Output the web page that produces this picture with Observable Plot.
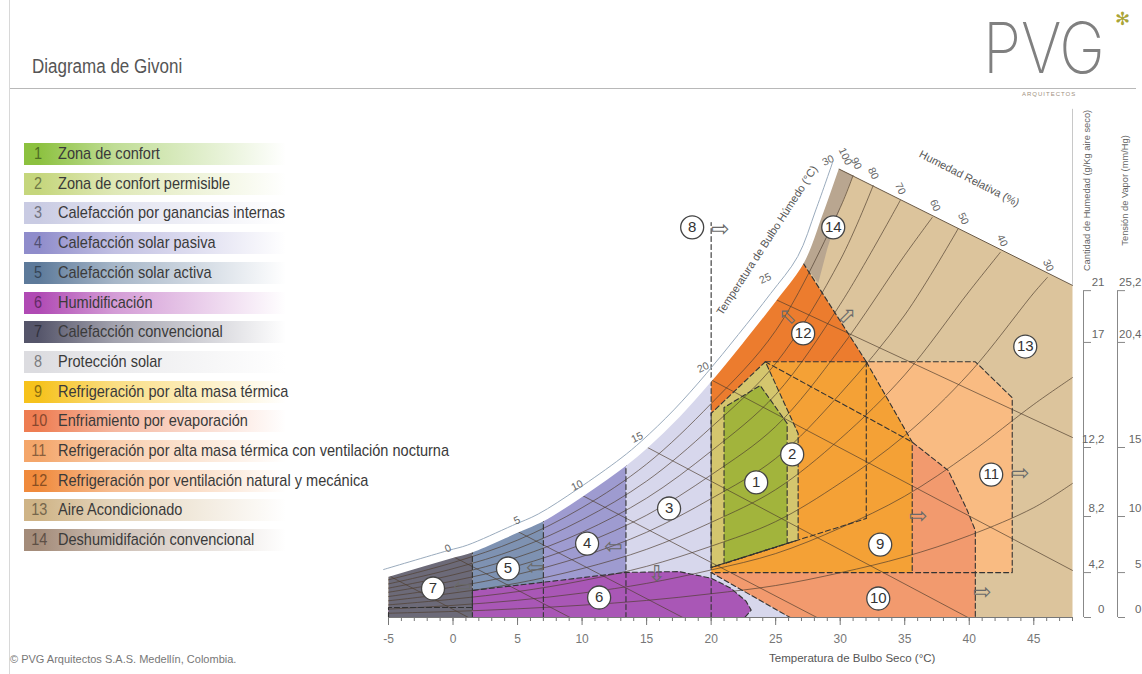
<!DOCTYPE html>
<html><head><meta charset="utf-8">
<script src="https://cdn.jsdelivr.net/npm/d3@7"></script>
<script src="https://cdn.jsdelivr.net/npm/@observablehq/plot@0.6"></script>
<style>
html,body{margin:0;padding:0;background:#fff;}
body{width:1142px;height:674px;position:relative;overflow:hidden;font-family:"Liberation Sans",Arial,sans-serif;}
#chart{position:absolute;left:0;top:0;}
.abs{position:absolute;}
#title{left:32px;top:55px;font-size:20px;color:#555;white-space:nowrap;transform:scaleX(0.85);transform-origin:left center;}
#hline{left:10px;top:88px;width:1126px;height:1px;background:#b8b8b8;}
#vline{left:9px;top:0;width:1px;height:674px;background:#d8d8d8;}
#caption{left:10px;top:653px;font-size:11px;color:#777;white-space:nowrap;}
.lrow{position:absolute;left:24px;height:22px;width:330px;}
.lnum{position:absolute;left:6px;width:16px;text-align:center;top:0;line-height:22px;font-size:17px;transform:scaleX(0.85);}
.ltxt{position:absolute;left:34px;top:0;line-height:22px;font-size:17px;color:#3a3a3a;white-space:nowrap;transform:scaleX(0.855);transform-origin:left center;}
</style></head><body>
<div id="vline" class="abs"></div>
<div id="chart"></div>
<div id="title" class="abs">Diagrama de Givoni</div>
<div id="hline" class="abs"></div>
<svg class="abs" style="left:960px;top:0px;overflow:visible" width="182" height="110">
  <text transform="translate(23,73) scale(0.88,1)" font-size="70" font-weight="200" font-family="Inter, 'Open Sans', sans-serif" fill="#808080">PVG</text>
  <text x="155" y="25" font-size="18" font-family="DejaVu Sans" fill="#aaa436">✻</text>
  <text x="62" y="96" font-size="6" font-family="'Liberation Sans', sans-serif" fill="#a09080" letter-spacing="1">ARQUITECTOS</text>
</svg>
<div id="legend"></div>
<div id="caption" class="abs">© PVG Arquitectos S.A.S. Medellín, Colombia.</div>
<script>
// ---------- Legend ----------
const legendNumbers = [1,2,3,4,5,6,7,8,9,10,11,12,13,14];
const legendLabels = ["Zona de confort","Zona de confort permisible","Calefacción por ganancias internas","Calefacción solar pasiva","Calefacción solar activa","Humidificación","Calefacción convencional","Protección solar","Refrigeración por alta masa térmica","Enfriamiento por evaporación","Refrigeración por alta masa térmica con ventilación nocturna","Refrigeración por ventilación natural y mecánica","Aire Acondicionado","Deshumidifación convencional"];
const legendColors = ["#8cc13f","#c5d67c","#c9cbe3","#8f8ccb","#5d7a9a","#b04ab4","#55556a","#dcdce0","#f6c21c","#ee7d52","#f4a66a","#f08a3c","#cfb487","#a48c7a"];

// ---------- Chart data (x = dry-bulb °C, y = humidity g/kg) ----------
const xDomain = [-5, 48];
const yDomain = [0, 28];
const xTicks = [-5,0,5,10,15,20,25,30,35,40,45];
const xMinorTicks = d3.range(-5, 49, 1);

// saturation curve
const satT = [-5, 0, 1.5, 5, 7, 10, 13.4, 15, 17.5, 20, 22.5, 25, 27.1, 28.5, 29.8];
const satW = [2.56, 3.72, 4.05, 5.25, 5.95, 7.45, 9.35, 10.4, 12.3, 14.5, 16.9, 19.4, 21.66, 24.5, 27.4];
const topEdgeT = [29.8, 48];
const topEdgeW = [27.4, 20.26];

// wet-bulb lines (start, end)
const wbStartT = [-5, 0, 5, 10, 15, 20, 25];
const wbStartW = [2.56, 3.72, 5.25, 7.45, 10.4, 14.5, 19.4];
const wbEndT = [1.2, 9.07, 17.8, 28.2, 39.9, 48, 48];
const wbEndW = [0, 0, 0, 0, 0, 2.87, 10.98];
const wbLabels = ["0","5","10","15","20","25","30"];
const wbLabelT = [-0.39, 4.96, 9.61, 14.26, 19.38, 24.19, 29.07];
const wbLabelW = [4.21, 5.92, 8.05, 10.98, 15.25, 20.68, 27.88];

// relative humidity curves
const rhT = [-5, 0, 5, 10, 15, 20, 25, 30, 35, 40, 45];
const rh90 = [2.3, 3.35, 4.72, 6.7, 9.36, 13.05, 17.5, 25.0];
const rh80 = [2.05, 2.98, 4.2, 5.96, 8.32, 11.6, 15.5, 21.8];
const rh70 = [1.79, 2.6, 3.68, 5.2, 7.28, 10.15, 13.6, 19.1];
const rh60 = [1.54, 2.23, 3.15, 4.47, 6.24, 8.7, 11.65, 16.4, 22.1];
const rh50 = [1.28, 1.86, 2.63, 3.72, 5.2, 7.25, 9.7, 13.65, 18.45];
const rh40 = [1.02, 1.49, 2.1, 2.98, 4.16, 5.8, 7.8, 10.9, 14.8, 19.9];
const rh30 = [0.77, 1.12, 1.58, 2.24, 3.12, 4.35, 5.85, 8.2, 11.1, 14.9, 19.8];
const rh20 = [0.51, 0.74, 1.05, 1.49, 2.08, 2.9, 3.9, 5.46, 7.4, 10.0, 13.0];
const rh10 = [0.26, 0.37, 0.53, 0.75, 1.04, 1.45, 1.95, 2.73, 3.7, 5.0, 6.7];
const rhEndT = [31.0, 32.56, 34.65, 37.13, 39.15, 42.4, 46.05, 48, 48];
const rhEndW = [26.97, 26.36, 25.44, 24.4, 23.73, 22.27, 20.74, 14.64, 8.18];
const rhLabels = ["100","90","80","70","60","50","40","30"];
const rhLabelT = [30.39, 31.24, 32.56, 34.65, 37.36, 39.53, 42.56, 46.12];
const rhLabelW = [28.13, 27.7, 27.09, 26.17, 25.14, 24.34, 23.0, 21.48];

// zones (T, w) vertices
const zone1 = [[21.0,3.29],[21.0,12.81],[23.8,14.15],[25.89,11.84],[25.89,4.51]];
const zone2 = [[20,3.05],[20,12.45],[24.2,15.6],[26.74,11.23],[26.74,4.73]];
const zone6 = [[-5,0],[-5,0.61],[1.5,0.61],[1.5,1.65],[7,2.15],[13.4,2.75],[17.5,2.8],[20,2.4],[21.5,1.8],[22.7,1.0],[23.1,0.45],[22.6,0]];
const zone9 = [[24.2,15.6],[32.02,15.6],[35.58,10.7],[35.58,2.74],[20,2.74],[20,12.45]];
const zone10 = [[24.2,15.6],[35.58,10.7],[38.37,8.97],[39.85,6.53],[40.47,5.31],[40.47,0],[26.12,0],[20,2.74]];
const zone11 = [[24.2,15.6],[40.47,15.6],[43.33,13.41],[43.33,2.74],[35.58,2.74],[35.58,10.7]];
const zone12Corner = [[32.02,15.6],[24.2,15.6],[20,12.45]];
const zone14Edge = [[31.0,26.97],[30.0,25.0],[29.0,22.5],[28.3,20.4]];
const zoneBounds = [1.5, 7, 13.4]; // vertical limits of zones 7|5|4|3
const zone8T = 20, zone8Top = 24.1;

const zoneColors = {1:"#a2b43c",2:"#d4c66e",3:"#d7d7ec",4:"#9e9bd0",5:"#7e92b2",6:"#a957b6",7:"#6c6a78",9:"#f4a136",10:"#f29a6e",11:"#f9bb82",12:"#ec7c2e",13:"#dcc49c",14:"#b9a690"};

// circles & arrows
const circleIds = [1,2,3,4,5,6,7,8,9,10,11,12,13,14];
const circleT = [23.49, 26.28, 16.74, 10.39, 4.26, 11.32, -1.55, 18.53, 33.1, 32.95, 41.7, 27.13, 44.34, 29.46];
const circleW = [8.24, 9.95, 6.65, 4.51, 2.99, 1.22, 1.77, 23.8, 4.45, 1.16, 8.72, 17.33, 16.53, 23.8];
const arrowT = [20.7, 25.89, 30.54, 12.4, 6.36, 0.7, 15.81, 36.05, 43.95, 41.0];
const arrowW = [23.73, 18.37, 18.43, 4.27, 2.99, 1.83, 2.68, 6.22, 8.79, 1.53];
const arrowAngle = [0, -135, -45, 180, 180, 180, 90, 0, 0, 0];

// right scales
const humPos = [0, 2.74, 6.16, 10.37, 16.78, 19.94];
const humLabels = ["0","4,2","8,2","12,2","17","21"];
const vapLabels = ["0","5","10","15","20,4","25,2"];

const xTitle = "Temperatura de Bulbo Seco (°C)";
const wbTitle = "Temperatura de Bulbo Húmedo (°C)";
const rhTitle = "Humedad Relativa (%)";
const humTitle = "Cantidad de Humedad (g/Kg aire seco)";
const vapTitle = "Tensión de Vapor (mm/Hg)";

// ---------- build legend ----------
const legend = document.getElementById("legend");
legendLabels.forEach((lab, i) => {
  const c = d3.color(legendColors[i]);
  const c0 = c.copy({opacity: 0}), c5 = c.copy({opacity: 0.55});
  const row = document.createElement("div");
  row.className = "lrow";
  row.style.top = (143 + i * 29.7) + "px";
  row.style.background = `linear-gradient(to right, ${c} 0px, ${c} 14px, ${c5} 90px, ${c0} 262px)`;
  row.innerHTML = `<span class="lnum" style="color:${c.darker(1.6)}">${legendNumbers[i]}</span><span class="ltxt">${lab}</span>`;
  legend.appendChild(row);
});

// ---------- chart ----------
const satPts = satT.map((t, i) => [t, satW[i]]);
const satBetween = (a, b) => satPts.filter(p => p[0] >= a && p[0] <= b);
const zone13 = [[-5,0], ...satPts, [topEdgeT[1], topEdgeW[1]], [48,0]];
const zone14 = [...satBetween(27.1, 29.8), ...zone14Edge];
const zone12 = [...satBetween(20, 27.1), ...zone12Corner];
const zone3 = [[13.4,0], ...satBetween(13.4, 20), [20,2.74], [26.12,0]];
const zone4 = [[7,0], ...satBetween(7, 13.4), [13.4,0]];
const zone5 = [[1.5,0], ...satBetween(1.5, 7), [7,0]];
const zone7 = [[-5,0], ...satBetween(-5, 1.5), [1.5,0]];

const P = d => d[0], Q = d => d[1];
const poly = (pts, id) => Plot.line(pts, {x: P, y: Q, fill: zoneColors[id], stroke: "none", curve: "linear-closed"});
const dash = (pts, closed) => Plot.line(pts, {x: P, y: Q, stroke: "#333", strokeWidth: 1.1, strokeDasharray: "5,3", curve: closed ? "linear-closed" : "linear"});

const rhSeries = [rh90, rh80, rh70, rh60, rh50, rh40, rh30, rh20, rh10].map((vals, k) =>
  [...vals.map((w, i) => [rhT[i], w]), [rhEndT[k], rhEndW[k]]]);

const gridStyle = {x: P, y: Q, stroke: "#4d3d2e", strokeOpacity: 0.75, strokeWidth: 0.9};
const font = '"Liberation Sans",Arial,sans-serif';

const marks = [
  poly(zone13, 13), poly(zone14, 14), poly(zone11, 11), poly(zone10, 10), poly(zone9, 9),
  poly(zone12, 12), poly(zone2, 2), poly(zone1, 1), poly(zone3, 3), poly(zone4, 4),
  poly(zone5, 5), poly(zone6, 6), poly(zone7, 7),
  // wet-bulb lines
  ...wbStartT.map((t, i) => Plot.line([[t, wbStartW[i]], [wbEndT[i], wbEndW[i]]], gridStyle)),
  // RH curves
  ...rhSeries.map(s => Plot.line(s, {...gridStyle, curve: "catmull-rom"})),
  // top edge
  Plot.line(topEdgeT.map((t, i) => [t, topEdgeW[i]]), {x: P, y: Q, stroke: "#6a5a48", strokeWidth: 1}),
  // dashed zone borders
  dash(zone1, true), dash(zone2, true), dash(zone6, true),
  dash(zone11.slice(0, 5)), dash([[35.58,2.74],[20,2.74]]),
  dash([zone12Corner[0], [27.1,21.66]]),
  dash(zone10.slice(0, 6)), dash([[40.47,0],[26.12,0],[20,2.74]]),
  dash([[32.02,15.6],[35.58,10.7],[35.58,2.74]]),
  dash([[32.02,15.6],[32.02,6.04]]),
  dash([[20,3.05],[32.02,6.04]]),
  ...zoneBounds.map(t => dash([[t, 0], satBetween(t, t)[0]])),
  dash([[zone8T, 0], [zone8T, zone8Top]]),
  // saturation curve (white band + outer scale line)
  Plot.line(satPts, {x: P, y: Q, stroke: "white", strokeWidth: 2.5, curve: "catmull-rom"}),
  Plot.line(satPts, {x: P, y: Q, stroke: "#9aabbd", strokeWidth: 1, dx: -5, dy: -6, curve: "catmull-rom"}),
  // separator line above right edge
  Plot.ruleX([xDomain[1]], {y1: topEdgeW[1], y2: 31, stroke: "#c8c8c8"}),
  // x axis
  Plot.ruleY([0], {stroke: "#777"}),
  Plot.axisX({ticks: xMinorTicks, tickSize: 4, tickFormat: () => "", stroke: "#777", label: null}),
  Plot.axisX({ticks: xTicks, tickSize: 8, tickPadding: 9, tickFormat: d => String(d), fontSize: 12, fill: "#777", stroke: "#777", label: null}),
  Plot.text([xTitle], {x: [30.93], frameAnchor: "bottom", dy: 44, fontSize: 11.5, fill: "#555"}),
  // right scales
  Plot.ruleX([xDomain[1]], {y1: humPos[0], y2: humPos[humPos.length - 1], dx: 11, stroke: "#888"}),
  Plot.axisY({anchor: "right", ticks: humPos, tickSize: 7, dx: 11, tickFormat: () => "", stroke: "#888", label: null}),
  Plot.text(humPos, {y: d => d, text: (d, i) => humLabels[i], frameAnchor: "right", dx: 32, dy: -8, textAnchor: "end", fontSize: 11.5, fill: "#666"}),
  Plot.ruleX([xDomain[1]], {y1: humPos[0], y2: humPos[humPos.length - 1], dx: 45, stroke: "#888"}),
  Plot.axisY({anchor: "right", ticks: humPos, tickSize: 7, dx: 45, tickFormat: () => "", stroke: "#888", label: null}),
  Plot.text(humPos, {y: d => d, text: (d, i) => vapLabels[i], frameAnchor: "right", dx: 69, dy: -8, textAnchor: "end", fontSize: 11.5, fill: "#666"}),
  Plot.text([humTitle], {y: [26.05], frameAnchor: "right", dx: 15, rotate: -90, textAnchor: "middle", fontSize: 9.3, fill: "#666"}),
  Plot.text([vapTitle], {y: [26.05], frameAnchor: "right", dx: 53, rotate: -90, textAnchor: "middle", fontSize: 9.3, fill: "#666"}),
  // wet bulb labels and title
  Plot.text(wbLabels, {x: (d, i) => wbLabelT[i], y: (d, i) => wbLabelW[i], text: d => d, fontSize: 10.5, fill: "#666", rotate: -25}),
  Plot.text([wbTitle], {x: [24.34], y: [23.0], rotate: -57, fontSize: 11, fill: "#555"}),
  // RH labels and title
  Plot.text(rhLabels, {x: (d, i) => rhLabelT[i], y: (d, i) => rhLabelW[i], text: d => d, fontSize: 10.5, fill: "#666", rotate: 65}),
  Plot.text([rhTitle], {x: [40.0], y: [26.78], rotate: 27, fontSize: 11, fill: "#555"}),
  // arrows
  Plot.text(arrowT, {x: d => d, y: (d, i) => arrowW[i], text: () => "⇨", rotate: (d, i) => arrowAngle[i], fontSize: 22, fill: "#6a6a6a", fontFamily: "DejaVu Sans"}),
  // numbered circles
  Plot.dot(circleIds, {x: (d, i) => circleT[i], y: (d, i) => circleW[i], r: 11.5, fill: "white", stroke: "#444", strokeWidth: 1.3}),
  Plot.text(circleIds, {x: (d, i) => circleT[i], y: (d, i) => circleW[i], text: d => String(d), fontSize: 15, fill: "#333"})
];

const chart = Plot.plot({
  width: 1142, height: 674,
  marginLeft: 388, marginRight: 70, marginTop: 158, marginBottom: 57,
  x: {domain: xDomain},
  y: {domain: yDomain},
  style: {fontFamily: font, background: "transparent", overflow: "visible"},
  marks
});
document.getElementById("chart").appendChild(chart);
</script>
</body></html>
